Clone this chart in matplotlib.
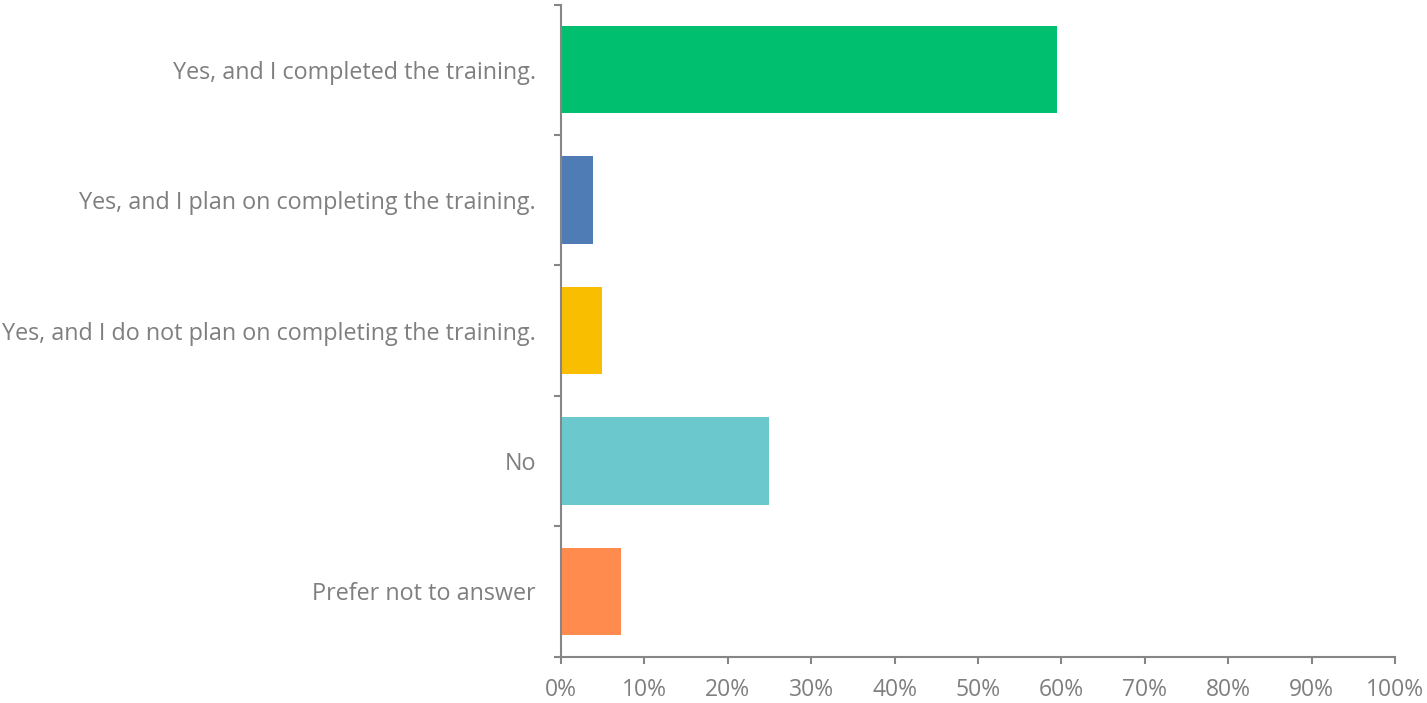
import numpy as np
import matplotlib.pyplot as plt
from matplotlib.ticker import FixedLocator, PercentFormatter

categories = [
    "Yes, and I completed the training.",
    "Yes, and I plan on completing the training.",
    "Yes, and I do not plan on completing the training.",
    "No",
    "Prefer not to answer",
]
values = [59.5, 3.8, 4.9, 24.9, 7.2]
colors = ["#00BF6F", "#507CB6", "#F9BE00", "#6BC8CD", "#FF8B4F"]

text_col = "#7f7f7f"
axis_col = "#868686"

plt.rcParams["font.family"] = ["Open Sans", "DejaVu Sans"]

fig = plt.figure(figsize=(14.27, 7.03), dpi=100)
ax = fig.add_axes([561 / 1427, 1 - 656.7 / 703, (1395 - 561) / 1427, (656.7 - 4.5) / 703])

y = np.arange(len(categories))
ax.barh(y, values, height=0.67, color=colors)

ax.set_xlim(0, 100)
ax.set_ylim(len(categories) - 0.5, -0.5)

ax.set_xticks(np.arange(0, 101, 10))
ax.xaxis.set_major_formatter(PercentFormatter(decimals=0))
ax.set_yticks(y)
ax.set_yticklabels(categories)
ax.yaxis.set_minor_locator(FixedLocator(np.arange(-0.5, len(categories), 1)))

ax.tick_params(axis="y", which="major", length=0, pad=18, labelsize=16.8, labelcolor=text_col)
ax.tick_params(axis="y", which="minor", length=5, width=1.5, color=axis_col)
ax.tick_params(axis="x", length=5, width=1.5, color=axis_col, pad=10, labelsize=16.5, labelcolor=text_col)

for side in ["top", "right"]:
    ax.spines[side].set_visible(False)
for side in ["left", "bottom"]:
    ax.spines[side].set_color(axis_col)
    ax.spines[side].set_linewidth(1.5)

fig.savefig("out.png", dpi=100)
